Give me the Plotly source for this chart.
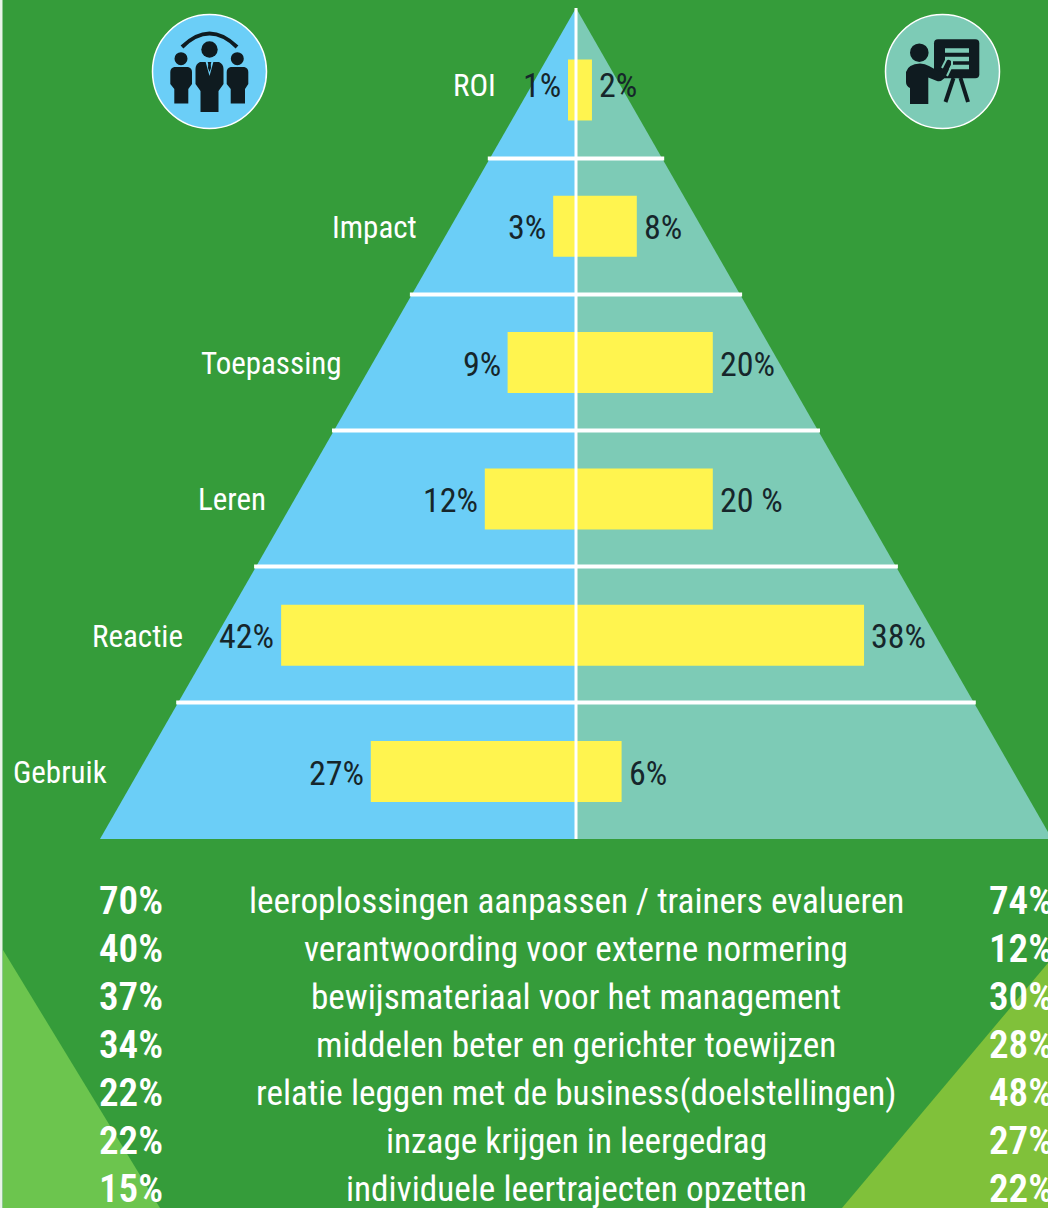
import plotly.graph_objects as go

# ---------- data ----------
levels = ["ROI", "Impact", "Toepassing", "Leren", "Reactie", "Gebruik"]
left_labels = ["1%", "3%", "9%", "12%", "42%", "27%"]
right_labels = ["2%", "8%", "20%", "20 %", "38%", "6%"]
# bar lengths as drawn in the picture (not always equal to the printed label)
left_bars = [1.05, 3.0, 9.0, 12.0, 38.8, 27.0]
right_bars = [2.1, 8.0, 18.0, 18.0, 37.9, 6.0]

purposes = [
    "leeroplossingen aanpassen / trainers evalueren",
    "verantwoording voor externe normering",
    "bewijsmateriaal voor het management",
    "middelen beter en gerichter toewijzen",
    "relatie leggen met de business(doelstellingen)",
    "inzage krijgen in leergedrag",
    "individuele leertrajecten opzetten",
]
purpose_left = ["70%", "40%", "37%", "34%", "22%", "22%", "15%"]
purpose_right = ["74%", "12%", "30%", "28%", "48%", "27%", "22%"]

# ---------- style ----------
W, H = 1048, 1208
FONT = "Roboto Condensed"
GREEN = "#359C3A"
BLUE = "#6BCEF7"
TEAL = "#7DCBB6"
YELLOW = "#FFF44F"
DARK = "#0F1B20"
TEXTDARK = "#16262B"
CX = 576.0
PX_PER_PCT = 7.6
ROW0, ROWSTEP = 90.0, 136.3

fig = go.Figure()
fig.add_trace(go.Bar(y=levels, x=[-v for v in left_bars], orientation="h", width=61 / ROWSTEP,
                     marker=dict(color=YELLOW, line=dict(width=0)), hoverinfo="skip", name="Deelnemers"))
fig.add_trace(go.Bar(y=levels, x=right_bars, orientation="h", width=61 / ROWSTEP,
                     marker=dict(color=YELLOW, line=dict(width=0)), hoverinfo="skip", name="Trainers"))

shapes, annots = [], []


def poly(points, fill, layer="below"):
    d = "M " + " L ".join(f"{x} {y}" for x, y in points) + " Z"
    shapes.append(dict(type="path", path=d, xref="x2", yref="y2", fillcolor=fill,
                       line=dict(width=0), layer=layer))


def path(d, fill=None, stroke=None, w=0, layer="above"):
    shapes.append(dict(type="path", path=d, xref="x2", yref="y2",
                       fillcolor=fill or "rgba(0,0,0,0)",
                       line=dict(color=stroke or "rgba(0,0,0,0)", width=w), layer=layer))


def circle(cx, cy, r, fill, stroke=None, w=0):
    shapes.append(dict(type="circle", xref="x2", yref="y2", x0=cx - r, x1=cx + r, y0=cy - r, y1=cy + r,
                       fillcolor=fill, line=dict(color=stroke or "rgba(0,0,0,0)", width=w), layer="above"))


def seg(x0, y0, x1, y1, color, w, layer="above"):
    shapes.append(dict(type="line", xref="x2", yref="y2", x0=x0, y0=y0, x1=x1, y1=y1,
                       line=dict(color=color, width=w), layer=layer))


# background accents
shapes.append(dict(type="rect", xref="x2", yref="y2", x0=0, x1=2.5, y0=0, y1=H,
                   fillcolor="#E8F3E8", line=dict(width=0), layer="below"))
poly([(3, 950), (160, 1208), (3, 1208)], "#6CC54E")
poly([(1048, 963), (842, 1208), (1048, 1208)], "#80C13A")

# pyramid halves
BASE_Y, APEX_Y = 839, 8
poly([(CX, APEX_Y), (CX, BASE_Y), (100, BASE_Y)], BLUE)
poly([(CX, APEX_Y), (1052, BASE_Y), (CX, BASE_Y)], TEAL)

# separators, drawn just past the pyramid's sloped edges
for y in (158.5, 294.5, 430.5, 566.5, 702.5):
    t = (y - APEX_Y) / (BASE_Y - APEX_Y)
    seg(CX - t * (CX - 100) - 2, y, CX + t * (1052 - CX) + 2, y, "white", 4, layer="below")
seg(CX, APEX_Y, CX, BASE_Y, "white", 3)

# left icon
circle(209.5, 71.5, 57, BLUE, "white", 1.5)
path("M 182 47 Q 209.5 20 237 47", stroke=DARK, w=4)
circle(209.5, 49.5, 8.2, DARK)
path("M 200 62 L 219 62 Q 223.5 64 223.5 69 L 223.5 84 L 218.5 91 L 218.5 112 L 200.5 112 L 200.5 91 "
     "L 195.5 84 L 195.5 69 Q 195.5 64 200 62 Z", fill=DARK)
path("M 205.5 61.5 L 209.5 76 L 213.5 61.5 L 211.5 61.5 L 210.8 64 L 211 68 L 209.5 72 L 208 68 L 208.2 64 "
     "L 207.5 61.5 Z", fill=BLUE)
for cx, x0, x1, n0, n1 in ((181, 170.3, 192, 174.3, 188.3), (237.3, 226.7, 248.3, 230.7, 245)):
    circle(cx, 58.7, 6.5, DARK)
    path(f"M {x0 + 4} 67 L {x1 - 4} 67 Q {x1} 68 {x1} 72 L {x1} 84 L {n1} 89 L {n1} 103.5 L {n0} 103.5 "
         f"L {n0} 89 L {x0} 84 L {x0} 72 Q {x0} 68 {x0 + 4} 67 Z", fill=DARK)

# right icon
circle(942.5, 71.5, 57, TEAL, "white", 1.5)
path("M 938 39.3 L 975.3 39.3 Q 979.3 39.3 979.3 43.3 L 979.3 74.3 Q 979.3 78.3 975.3 78.3 L 938 78.3 "
     "Q 934 78.3 934 74.3 L 934 43.3 Q 934 39.3 938 39.3 Z", fill=DARK)
for y in (50.5, 59, 67):
    seg(945, y, 969, y, TEAL, 4.5)
seg(953.5, 78, 945.5, 102, DARK, 4)
seg(960.5, 78, 968, 102, DARK, 4)
circle(919.3, 52.7, 9.3, DARK)
path("M 906 72 Q 908 64 920 63.5 Q 925 63.5 929 66 L 939 71.5 L 945 61 Q 948 58 951 61 L 951 65 L 944 78.5 "
     "Q 941 82 937 81 L 928.3 77.5 L 928.3 104 L 910 104 L 910 88 Q 906 86 906 82 Z", fill=DARK)
path("M 942 68 L 946 60 Q 949.5 56.5 952 60 L 952 65.5 L 947 76", stroke=TEAL, w=2)


def note(x, y, text, anchor, color, size, xref="x2", yref="y2", xshift=0, yshift=0, weight=400):
    annots.append(dict(x=x, y=y, text=text, xref=xref, yref=yref, xanchor=anchor, yanchor="middle",
                       showarrow=False, xshift=xshift, yshift=yshift, borderpad=0, borderwidth=0,
                       font=dict(family=FONT, size=size, color=color, weight=weight)))


# pyramid text
level_label_right = [496, 417, 342, 266, 183, 107]
level_dy = [-5, 1, 1, 1, 1, 1]
for i, name in enumerate(levels):
    note(level_label_right[i], ROW0 + i * ROWSTEP + level_dy[i], name, "right", "white", 31)
    note(-left_bars[i], i, left_labels[i], "right", TEXTDARK, 34, "x", "y", xshift=-7, yshift=-level_dy[i])
    note(right_bars[i], i, right_labels[i], "left", TEXTDARK, 34, "x", "y", xshift=7, yshift=-level_dy[i])

# purposes table
for i, text in enumerate(purposes):
    y = 901 + 48 * i
    note(163, y, purpose_left[i], "right", "white", 39, weight=600)
    note(CX, y, text, "center", "white", 35.2)
    note(989, y, purpose_right[i], "left", "white", 39, weight=600)

hidden = dict(visible=False, showgrid=False, zeroline=False, fixedrange=True)
fig.update_layout(
    width=W, height=H, margin=dict(l=0, r=0, t=0, b=0), autosize=False,
    paper_bgcolor=GREEN, plot_bgcolor=GREEN, showlegend=False, barmode="overlay",
    xaxis=dict(range=[-CX / PX_PER_PCT, (W - CX) / PX_PER_PCT], domain=[0, 1], **hidden),
    yaxis=dict(type="category", categoryorder="array", categoryarray=levels,
               range=[(H - ROW0) / ROWSTEP, -ROW0 / ROWSTEP], domain=[0, 1], **hidden),
    xaxis2=dict(range=[0, W], overlaying="x", anchor="y2", **hidden),
    yaxis2=dict(range=[H, 0], overlaying="y", anchor="x2", **hidden),
    shapes=shapes, annotations=annots,
)
# keep the second axes alive for shape/annotation references
fig.add_trace(go.Scatter(x=[], y=[], xaxis="x2", yaxis="y2", hoverinfo="skip"))

fig.write_html("out.html", config=dict(displayModeBar=False),
               post_script="document.body.style.margin='0';document.body.style.overflow='hidden';")
